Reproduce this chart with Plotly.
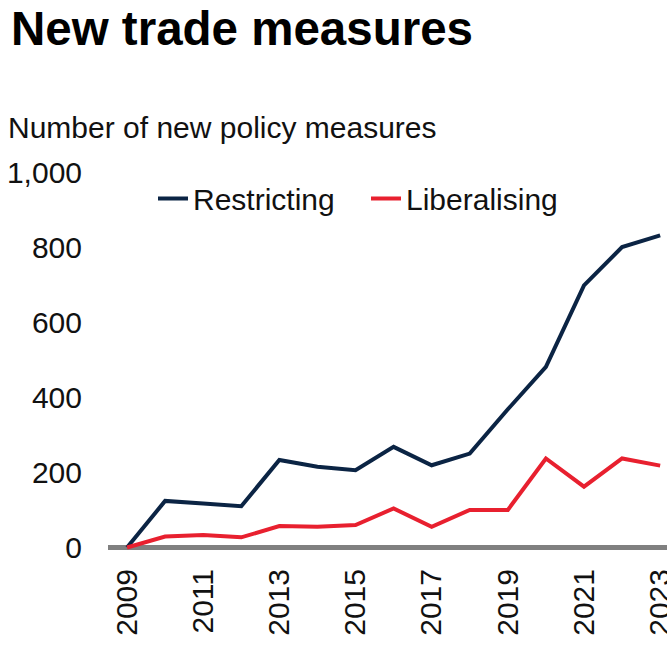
import plotly.graph_objects as go

# Annual count of new trade policy measures
years = list(range(2009, 2024))
restricting = [0, 124, 117, 110, 233, 215, 206, 268, 219, 250, 368, 481, 698, 800, 831]
liberalising = [0, 29, 33, 27, 57, 55, 60, 104, 55, 100, 100, 237, 162, 237, 218]
y_ticks = [0, 200, 400, 600, 800, 1000]
x_ticks = list(range(2009, 2024, 2))

NAVY = "#0b2444"
RED = "#e8202f"
FONT = "Liberation Sans, Arial, sans-serif"

W, H = 667, 645
L, R, T, B = 108, 0, 171.5, 90
plot_h = H - T - B


def py_to_paper(py):
    return (H - B - py) / plot_h


fig = go.Figure()
fig.add_trace(go.Scatter(x=years, y=restricting, name="Restricting", mode="lines",
                         line=dict(color=NAVY, width=4)))
fig.add_trace(go.Scatter(x=years, y=liberalising, name="Liberalising", mode="lines",
                         line=dict(color=RED, width=4)))

fig.update_layout(
    width=W, height=H,
    margin=dict(l=L, r=R, t=T, b=B, pad=0, autoexpand=False),
    paper_bgcolor="white", plot_bgcolor="white",
    font=dict(family=FONT, size=30, color="#111"),
    showlegend=True,
    legend=dict(orientation="h", x=(153 - L) / (W - L - R), xanchor="left",
                y=py_to_paper(198), yanchor="middle",
                entrywidth=168, font=dict(size=30, color="#111"),
                bgcolor="rgba(0,0,0,0)"),
    xaxis=dict(range=[2008.5, 2023.18], tickvals=x_ticks, tickangle=-90,
               showgrid=False, zeroline=False, showline=False, ticks="",
               ticklabelstandoff=7, ticklabeloverflow="allow", automargin=False,
               tickfont=dict(size=30)),
    yaxis=dict(range=[-20, 1000], tickvals=y_ticks, tickformat=",",
               showgrid=False, zeroline=True, zerolinecolor="#808080",
               zerolinewidth=5, showline=False, ticks="", automargin=False,
               ticklabelstandoff=25, tickfont=dict(size=30)),
    annotations=[
        dict(text="<b>New trade measures</b>", xref="paper", yref="paper",
             x=-(L - 10) / (W - L - R), xanchor="left",
             y=py_to_paper(0), yanchor="top", showarrow=False, borderpad=0,
             font=dict(size=47.5, color="#000", family=FONT)),
        dict(text="Number of new policy measures", xref="paper", yref="paper",
             x=-(L - 6) / (W - L - R), xanchor="left",
             y=py_to_paper(127), yanchor="middle", showarrow=False,
             font=dict(size=30, color="#111", family=FONT)),
    ],
)

fig.write_html("out.html", config={"displayModeBar": False})
